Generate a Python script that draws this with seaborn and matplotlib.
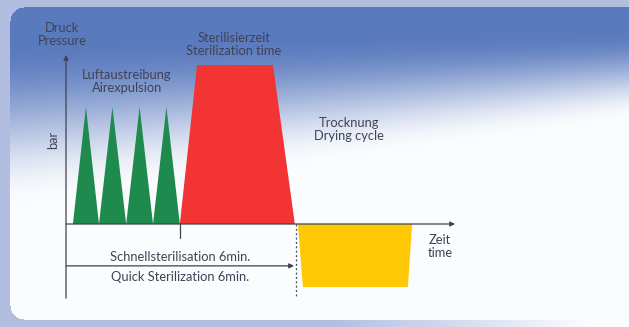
import numpy as np
import matplotlib
matplotlib.use("Agg")
import matplotlib.pyplot as plt
import seaborn as sns

# ---------------- data (schematic units: minutes / bar) ----------------
green_base_x = [0.18, 0.86, 1.57, 2.27, 2.97]
green_peak_x = [0.52, 1.21, 1.92, 2.62]
green_peak_y = [2.21, 2.21, 2.21, 2.21]

red_x = [2.97, 3.42, 5.40, 5.97]
red_y = [0.0, 3.0, 3.0, 0.0]

yellow_x = [6.05, 6.18, 8.92, 9.03]
yellow_y = [0.0, -1.19, -1.19, 0.0]

quick_end = 6.0
tick_x = 2.97

labels = {
    "pressure": "Druck\nPressure",
    "unit": "bar",
    "air": "Luftaustreibung\nAirexpulsion",
    "steril": "Sterilisierzeit\nSterilization time",
    "dry": "Trocknung\nDrying cycle",
    "time": "Zeit\ntime",
    "quick_de": "Schnellsterilisation 6min.",
    "quick_en": "Quick Sterilization 6min.",
}

# ---------------- style ----------------
sns.set_theme(style="white")
plt.rcParams['font.family'] = ['Lato', 'DejaVu Sans']

W, H = 629, 327
fig = plt.figure(figsize=(W / 100, H / 100), dpi=100)

# background gradient panel
bg = fig.add_axes([0, 0, 1, 1], zorder=0)
bg.set_axis_off()
yy, xx = np.mgrid[0:H, 0:W].astype(float)
outer = np.array([178, 190, 224], float)
white = np.array([251, 252, 254], float)
img = np.empty((H, W, 3))
img[:] = outer
wb = np.clip((xx - 330) / 260, 0, 1)[..., None]
img = np.where((yy > 318)[..., None], outer * (1 - wb) + white * wb, img)

x0, x1, y0, y1, r = 10, 660, 7, 319, 14
cx = np.clip(xx, x0 + r, x1 - r)
cy = np.clip(yy, y0 + r, y1 - r)
inside = ((xx - cx) ** 2 + (yy - cy) ** 2 <= r ** 2) & (xx >= x0) & (yy >= y0) & (yy <= y1)
top = np.array([90, 122, 190], float)
fx = xx / W
ys = 40 - 10 * fx
ye = 210 - 90 * fx
t = np.clip((ye - yy) / (ye - ys), 0, 1)
t = t * t * (3 - 2 * t)
panel = top * t[..., None] + white * (1 - t[..., None])
img = np.where(inside[..., None], panel, img)
bg.imshow(img.astype(np.uint8), extent=[0, W, H, 0], aspect="auto")
bg.set_xlim(0, W)
bg.set_ylim(H, 0)

# main diagram axes: mapping pixel -> data
px_per_min = 38.33
px_per_bar = 53.0
ox, oy = 66, 224
ax = fig.add_axes([0, 0, 1, 1], zorder=1)
ax.set_facecolor("none")
ax.set_xlim(-ox / px_per_min, (W - ox) / px_per_min)
ax.set_ylim(-(H - oy) / px_per_bar, oy / px_per_bar)
ax.set_axis_off()

green = "#1e8a4e"
red = "#f23434"
yellow = "#ffc807"
ink = "#3f4254"

for i in range(len(green_peak_x)):
    ax.fill([green_base_x[i], green_peak_x[i], green_base_x[i + 1]],
            [0, green_peak_y[i], 0], color=green, lw=0, zorder=2)
ax.fill(red_x, red_y, color=red, lw=0, zorder=2)
ax.fill(yellow_x, yellow_y, color=yellow, lw=0, zorder=2)

arrow = dict(arrowstyle="-|>", color=ink, lw=0.9, mutation_scale=7,
             shrinkA=0, shrinkB=0)
# vertical axis
ax.annotate("", xy=(0, 3.19), xytext=(0, -1.40), arrowprops=arrow, zorder=3)
# horizontal axis
ax.annotate("", xy=(10.15, 0), xytext=(0, 0), arrowprops=arrow, zorder=3)
# quick sterilization arrow
ax.annotate("", xy=(quick_end - 0.05, -0.79), xytext=(0, -0.79), arrowprops=arrow, zorder=3)
# tick under the end of air expulsion
ax.plot([tick_x, tick_x], [0, -0.26], color=ink, lw=0.9, zorder=3)
# dotted line at end of quick sterilization
ax.plot([quick_end, quick_end], [0, -1.40], color=ink, lw=0.9,
        ls=(0, (1.5, 2)), zorder=3)

fs = 9.3
kw = dict(color=ink, fontsize=fs, ha="center", va="center", linespacing=1.1, zorder=4)
ax.text(-0.10, 3.57, labels["pressure"], **kw)
ax.text(-0.34, 1.58, labels["unit"], rotation=90, **kw)
ax.text(1.59, 2.68, labels["air"], **kw)
ax.text(4.38, 3.38, labels["steril"], **kw)
ax.text(7.38, 1.79, labels["dry"], **kw)
ax.text(9.76, -0.42, labels["time"], **kw)
ax.text(2.97, -0.62, labels["quick_de"], **kw)
ax.text(2.97, -1.00, labels["quick_en"], **kw)

fig.savefig("out.png", dpi=100)
